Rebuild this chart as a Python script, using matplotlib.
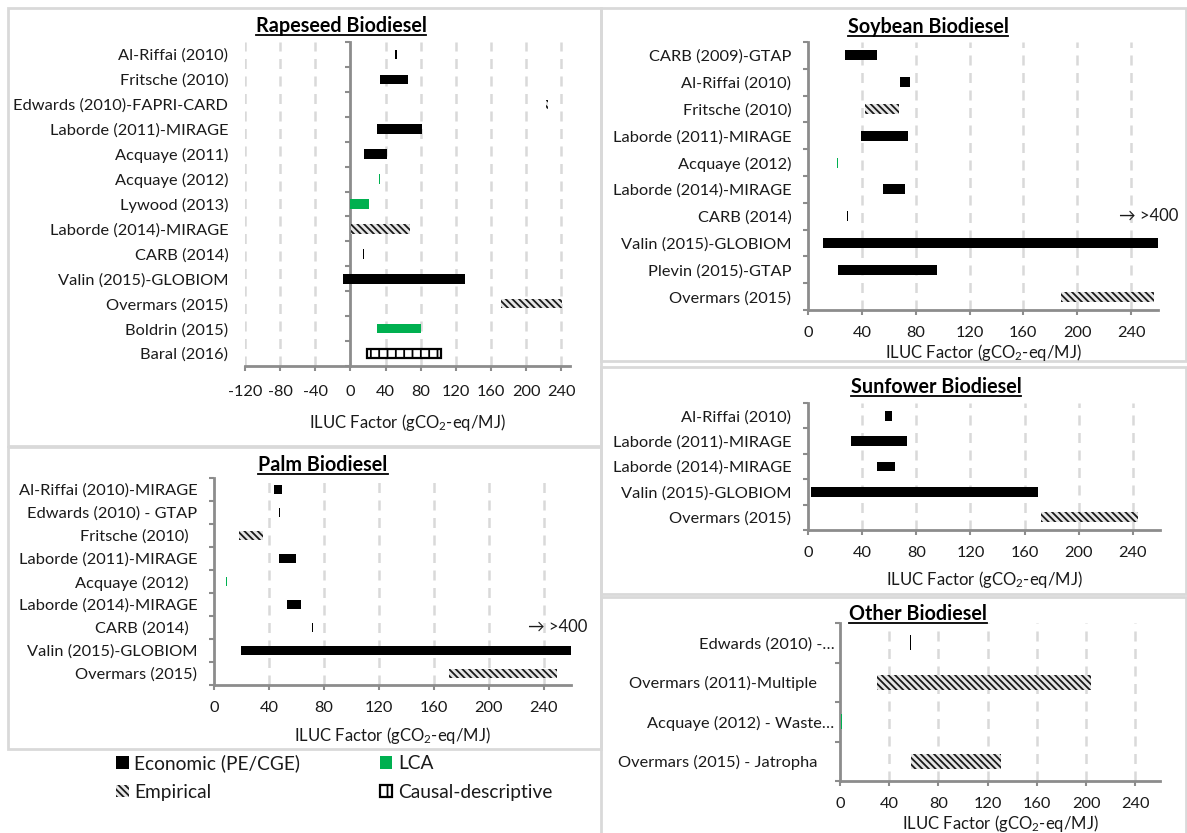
import matplotlib
matplotlib.use("Agg")
import matplotlib.pyplot as plt
from matplotlib.patches import Patch, Rectangle
from matplotlib.lines import Line2D
import numpy as np

plt.rcParams['font.family'] = ['Lato', 'DejaVu Sans']
plt.rcParams['mathtext.default'] = 'regular'
plt.rcParams['hatch.linewidth'] = 1.3

# ---- data (ILUC factor ranges, gCO2-eq/MJ) ----
rape_labels = ['Al-Riffai (2010)', 'Fritsche (2010)', 'Edwards (2010)-FAPRI-CARD',
               'Laborde (2011)-MIRAGE', 'Acquaye (2011)', 'Acquaye (2012)', 'Lywood (2013)',
               'Laborde (2014)-MIRAGE', 'CARB (2014)', 'Valin (2015)-GLOBIOM',
               'Overmars (2015)', 'Boldrin (2015)', 'Baral (2016)']
rape_lo = [51, 34, 223, 30, 15, 32, 0, 1, 14.5, -8, 171, 30, 19]
rape_hi = [53, 66, 225, 81, 42, 33.5, 21, 68, 15.5, 131, 241, 80, 103]
rape_kind = ['econ', 'econ', 'emp', 'econ', 'econ', 'lca', 'lca', 'emp', 'econ', 'econ',
             'emp', 'lca', 'causal']

soy_labels = ['CARB (2009)-GTAP', 'Al-Riffai (2010)', 'Fritsche (2010)', 'Laborde (2011)-MIRAGE',
              'Acquaye (2012)', 'Laborde (2014)-MIRAGE', 'CARB (2014)', 'Valin (2015)-GLOBIOM',
              'Plevin (2015)-GTAP', 'Overmars (2015)']
soy_lo = [27.5, 68, 42, 39, 21.5, 55.5, 29, 11.5, 22, 188]
soy_hi = [51, 76, 67.5, 74, 22.5, 72, 30, 400, 96, 257]
soy_kind = ['econ', 'econ', 'emp', 'econ', 'lca', 'econ', 'econ', 'econ', 'econ', 'emp']

palm_labels = ['Al-Riffai (2010)-MIRAGE', 'Edwards (2010) - GTAP', 'Fritsche (2010)  ',
               'Laborde (2011)-MIRAGE', 'Acquaye (2012)  ', 'Laborde (2014)-MIRAGE', 'CARB (2014)  ',
               'Valin (2015)-GLOBIOM', 'Overmars (2015)']
palm_lo = [44, 47, 18, 47, 8.8, 53.5, 71.2, 20, 171]
palm_hi = [49.5, 48, 35.5, 60, 9.6, 63.5, 72.2, 400, 250]
palm_kind = ['econ', 'econ', 'emp', 'econ', 'lca', 'econ', 'econ', 'econ', 'emp']

sun_labels = ['Al-Riffai (2010)', 'Laborde (2011)-MIRAGE', 'Laborde (2014)-MIRAGE',
              'Valin (2015)-GLOBIOM', 'Overmars (2015)']
sun_lo = [57, 32, 51, 2, 172]
sun_hi = [62, 73, 64, 170, 244]
sun_kind = ['econ', 'econ', 'econ', 'econ', 'emp']

other_labels = ['Edwards (2010) -\u2026', 'Overmars (2011)-Multiple    ',
                'Acquaye (2012) - Waste\u2026', 'Overmars (2015) - Jatropha    ']
other_lo = [57, 30, 0.5, 58]
other_hi = [58, 204, 2, 130.5]
other_kind = ['econ', 'emp', 'lca', 'emp']

legend_names = {'econ': 'Economic (PE/CGE)', 'lca': 'LCA', 'emp': 'Empirical',
                'causal': 'Causal-descriptive'}

styles = {
    'econ': dict(facecolor='black', edgecolor='black', linewidth=0),
    'lca': dict(facecolor='#00b050', edgecolor='#00b050', linewidth=0),
    'emp': dict(facecolor='#e6e6e6', edgecolor='#1a1a1a', linewidth=0, hatch='\\\\\\\\\\'),
    'causal': dict(facecolor='white', edgecolor='black', linewidth=1.6, hatch='||'),
}

W, H = 1187, 833
fig = plt.figure(figsize=(W / 100, H / 100), dpi=100)

# light gray panel frames
frames = [(8, 8, 601, 446), (8, 447, 601, 749), (601, 8, 1186, 361),
          (601, 367, 1186, 594), (601, 597, 1186, 840)]
for x0, y0, x1, y1 in frames:
    fig.add_artist(Rectangle((x0 / W, 1 - y1 / H), (x1 - x0) / W, (y1 - y0) / H,
                             transform=fig.transFigure, fill=False,
                             edgecolor='#d9d9d9', linewidth=2, zorder=0))

spine_col = '#8c8c8c'
text_col = '#1a1a1a'
TICK_FS = 11.8


def box(x0, y0, x1, y1):
    return [x0 / W, 1 - y1 / H, (x1 - x0) / W, (y1 - y0) / H]


def panel(rect, labels, lo, hi, kind, xmin, xmax, ticks, title, title_xy, xlab_y, ypad=12,
          xpad=8):
    ax = fig.add_axes(box(*rect))
    n = len(labels)
    y = np.arange(n)
    lo = np.array(lo, float)
    hi = np.array(hi, float)
    for i in range(n):
        ax.barh(y[i], hi[i] - lo[i], left=lo[i], height=0.38, zorder=3, **styles[kind[i]])
    ax.set_xlim(xmin, xmax)
    ax.set_ylim(n - 0.5, -0.5)
    ax.set_xticks(ticks)
    ax.set_xticklabels([str(t) for t in ticks], fontsize=TICK_FS, color=text_col)
    ax.set_yticks(y)
    ax.set_yticklabels(labels, fontsize=TICK_FS, color=text_col)
    ax.tick_params(axis='y', length=0, pad=ypad)
    ax.tick_params(axis='x', length=3.6, width=1.5, color=spine_col, pad=xpad)
    for t in ticks:
        if t != 0:
            ax.axvline(t, color='#d9d9d9', linewidth=1.8, dashes=(4, 3), zorder=1)
    for s in ['top', 'right', 'left']:
        ax.spines[s].set_visible(False)
    ax.spines['bottom'].set_color(spine_col)
    ax.spines['bottom'].set_linewidth(2)
    ax.set_facecolor('none')
    # vertical axis at x = 0 with ticks between categories
    sec = ax.secondary_yaxis((0 - xmin) / (xmax - xmin))
    sec.set_yticks(np.arange(n + 1) - 0.5)
    sec.set_yticklabels([])
    sec.tick_params(length=3.6, width=1.5, color=spine_col)
    sec.spines['left'].set_color(spine_col)
    sec.spines['left'].set_linewidth(2)
    fig.text(title_xy[0] / W, 1 - title_xy[1] / H, title, ha='center', va='center',
             fontsize=14.2, fontweight='bold', color='black')
    x_mid = (rect[0] + rect[2]) / 2
    fig.text(x_mid / W, 1 - xlab_y / H, r'ILUC Factor (gCO$_2$-eq/MJ)', ha='center',
             va='center', fontsize=12, color=text_col)
    return ax


axes = {}
axes['rape'] = panel((245, 42, 570, 366), rape_labels, rape_lo, rape_hi, rape_kind,
                     -120, 250, list(range(-120, 241, 40)), 'Rapeseed Biodiesel', (341, 26), 422,
                     xpad=10)
axes['soy'] = panel((808, 42, 1158, 310), soy_labels, soy_lo, soy_hi, soy_kind,
                    0, 260, list(range(0, 241, 40)), 'Soybean Biodiesel', (928, 27), 353)
axes['palm'] = panel((214, 478, 571, 685), palm_labels, palm_lo, palm_hi, palm_kind,
                     0, 260, list(range(0, 241, 40)), 'Palm Biodiesel', (323, 465), 735)
axes['sun'] = panel((808, 403, 1160, 530), sun_labels, sun_lo, sun_hi, sun_kind,
                    0, 260, list(range(0, 241, 40)), 'Sunfower Biodiesel', (936, 387), 579)
axes['other'] = panel((840, 623, 1160, 781), other_labels, other_lo, other_hi, other_kind,
                      0, 260, list(range(0, 241, 40)), 'Other Biodiesel', (918, 614), 824,
                      ypad=4)

# off-scale markers
axes['soy'].text(231, soy_labels.index('CARB (2014)'), '\u2192 >400', fontsize=12,
                 va='center', ha='left', color=text_col, clip_on=False)
axes['palm'].text(229, palm_labels.index('CARB (2014)  '), '\u2192 >400', fontsize=12,
                  va='center', ha='left', color=text_col, clip_on=False)

# legend
order = ['econ', 'emp', 'lca', 'causal']
handles = [Patch(label=legend_names[k], **styles[k]) for k in order]
fig.legend(handles=handles, ncol=2, loc='upper left', bbox_to_anchor=(99 / W, 1 - 737 / H),
           frameon=False, fontsize=13.8, handlelength=0.65, handleheight=0.65,
           handletextpad=0.3, columnspacing=4.15, labelspacing=0.6, labelcolor=text_col)

# underline the panel titles
fig.canvas.draw()
rend = fig.canvas.get_renderer()
for t in list(fig.texts):
    if t.get_fontweight() == 'bold':
        bb = t.get_window_extent(rend)
        y_line = bb.y0 + 1
        fig.add_artist(Line2D([bb.x0 / W, bb.x1 / W], [y_line / H, y_line / H],
                              transform=fig.transFigure, color='black', linewidth=1.3))

fig.savefig('out.png', dpi=100)
